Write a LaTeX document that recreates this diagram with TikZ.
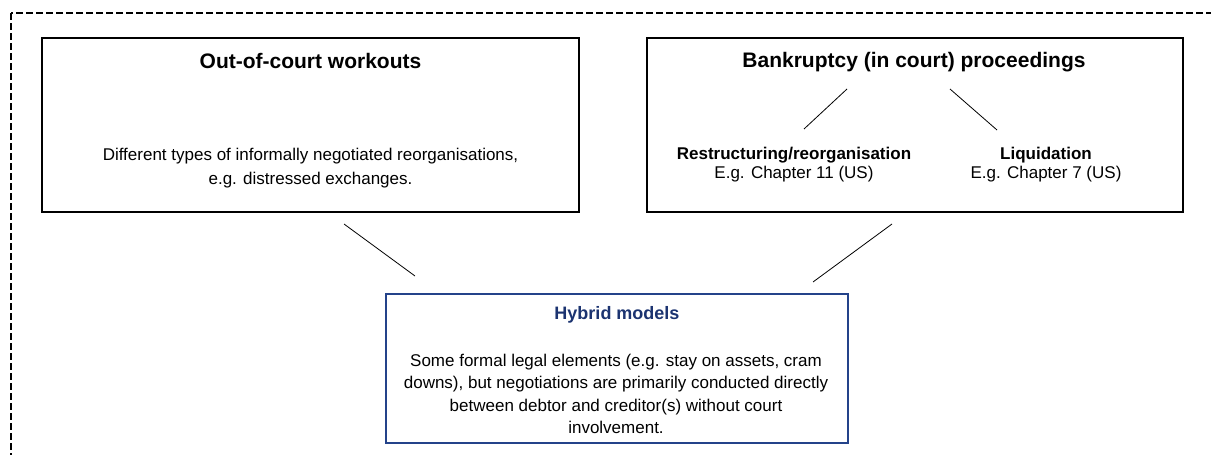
\documentclass[tikz,border=0pt]{standalone}
\usepackage{fontspec}
\setmainfont{Liberation Sans}
\definecolor{navy}{HTML}{1B3370}
\definecolor{navyline}{HTML}{24438A}
\begin{document}
\begin{tikzpicture}[x=1pt,y=-1pt,
  box/.style={draw=black, line width=2pt, inner sep=0pt},
  hybox/.style={draw=navyline, line width=1.6pt, inner sep=0pt},
  frame/.style={draw=black, line width=1.8pt, dash pattern=on 7pt off 3pt},
  conn/.style={draw=black, line width=0.8pt},
  ttl/.style={font=\fontsize{21}{25}\selectfont\bfseries, inner sep=0pt},
  body/.style={font=\fontsize{17}{22.5}\selectfont, align=center, inner sep=0pt}]
\useasboundingbox (0,0) rectangle (1211,455);
\begin{scope}
\clip (0,0) rectangle (1211,455);
\draw[frame] (11,13) rectangle (1230,480);
\end{scope}
% boxes
\node[box, minimum width=537pt, minimum height=174pt] (oc) at (310.5,125) {};
\node[box, minimum width=536pt, minimum height=174pt] (bk) at (915,125) {};
\node[hybox, minimum width=462pt, minimum height=149pt] (hy) at (617,368.5) {};
% left box texts
\node[ttl] (octitle) at (310.5,61) {Out-of-court workouts};
\node[body, font=\fontsize{17}{24.5}\selectfont] (octext) at (310.5,168) {Different types of informally negotiated reorganisations,\\e.g. distressed exchanges.};
% right box texts
\node[ttl] (bktitle) at (914,62) {Bankruptcy (in court) proceedings};
\node[body, font=\fontsize{17}{19.5}\selectfont] (rs) at (794,164.5) {\textbf{Restructuring/reorganisation}\\E.g. Chapter 11 (US)};
\node[body, font=\fontsize{17}{19.5}\selectfont] (lq) at (1046,164.5) {\textbf{Liquidation}\\E.g. Chapter 7 (US)};
% hybrid texts
\node[ttl, font=\fontsize{18}{22}\selectfont\bfseries, text=navy] (hytitle) at (617,315) {Hybrid models};
\node[body] (hytext) at (616,394) {Some formal legal elements (e.g. stay on assets, cram\\downs), but negotiations are primarily conducted directly\\between debtor and creditor(s) without court\\involvement.};
% connector end points
\coordinate (b1a) at (847,89);
\coordinate (b1b) at (804,129);
\coordinate (b2a) at (950,89);
\coordinate (b2b) at (997,130);
\coordinate (l1a) at (344,224);
\coordinate (l1b) at (415,276);
\coordinate (r1a) at (892,224);
\coordinate (r1b) at (813,282);
\draw[conn] (b1a) -- (b1b);
\draw[conn] (b2a) -- (b2b);
\draw[conn] (l1a) -- (l1b);
\draw[conn] (r1a) -- (r1b);
\end{tikzpicture}
\end{document}
